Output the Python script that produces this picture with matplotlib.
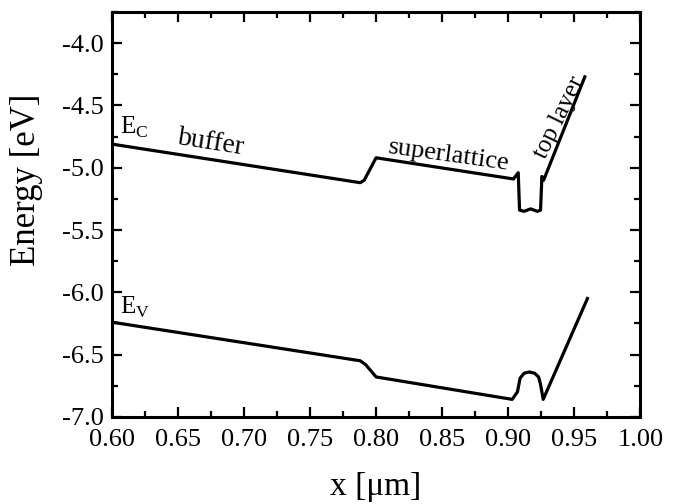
import matplotlib
matplotlib.use("Agg")
import matplotlib.pyplot as plt
from matplotlib.ticker import MultipleLocator

plt.rcParams["font.family"] = ["Liberation Serif", "DejaVu Serif"]

# conduction band edge E_c
ec_x = [0.600, 0.788, 0.791, 0.800, 0.904, 0.9076, 0.9086, 0.912, 0.917, 0.922, 0.9245, 0.9255, 0.9268, 0.958]
ec_y = [-4.81, -5.12, -5.10, -4.92, -5.09, -5.04, -5.34, -5.35, -5.33, -5.35, -5.34, -5.07, -5.10, -4.27]

# valence band edge E_v
ev_x = [0.600, 0.788, 0.792, 0.800, 0.903, 0.907, 0.909, 0.912, 0.916, 0.920, 0.923, 0.9245, 0.9265, 0.960]
ev_y = [-6.24, -6.55, -6.58, -6.68, -6.86, -6.80, -6.69, -6.65, -6.64, -6.65, -6.68, -6.74, -6.86, -6.05]

fig = plt.figure(figsize=(6.74, 5.04), dpi=100)
ax = fig.add_axes([0.166, 0.173, 0.784, 0.803])

ax.plot(ec_x, ec_y, color="black", lw=2.3, solid_joinstyle="round")
ax.plot(ev_x, ev_y, color="black", lw=2.3, solid_joinstyle="round")

ax.set_xlim(0.60, 1.00)
ax.set_ylim(-7.0, -3.75)
ax.xaxis.set_major_locator(MultipleLocator(0.05))
ax.xaxis.set_minor_locator(MultipleLocator(0.025))
ax.yaxis.set_major_locator(MultipleLocator(0.5))
ax.yaxis.set_minor_locator(MultipleLocator(0.25))
ax.xaxis.set_major_formatter(plt.FormatStrFormatter("%.2f"))
ax.yaxis.set_major_formatter(plt.FormatStrFormatter("%.1f"))
ax.tick_params(which="both", direction="in", top=True, right=True, width=1.6, labelsize=19)
ax.tick_params(which="major", length=7)
ax.tick_params(which="minor", length=4)
ax.tick_params(axis="x", pad=9)
ax.tick_params(axis="y", pad=6)
for s in ax.spines.values():
    s.set_linewidth(2.2)

ax.set_xlabel("x [μm]", fontsize=24)
ax.set_ylabel("Energy [eV]", fontsize=25)
ax.xaxis.set_label_coords(0.5, -0.135)
ax.yaxis.set_label_coords(-0.13, 0.585)

# the -7.0 label sits a little higher in the original
fig.canvas.draw()
ax.yaxis.get_major_ticks()[0].label1.set_verticalalignment("baseline")

ax.text(0.6065, -4.73, r"E$_\mathregular{C}$", fontsize=18)
ax.text(0.6065, -6.17, r"E$_\mathregular{V}$", fontsize=18)
ax.text(0.675, -4.80, "buffer", fontsize=20, rotation=-9, ha="center", va="center")
ax.text(0.855, -4.90, "superlattice", fontsize=19, rotation=-8, ha="center", va="center")
ax.text(0.939, -4.60, "top layer", fontsize=18, rotation=64, ha="center", va="center")

fig.savefig("out.png", dpi=100)
